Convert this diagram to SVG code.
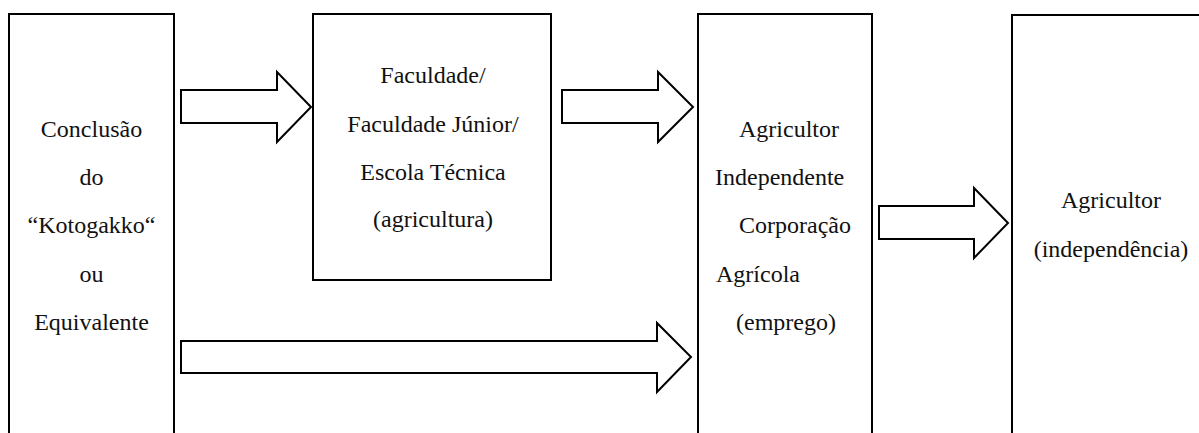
<svg xmlns="http://www.w3.org/2000/svg" width="1199" height="433" viewBox="0 0 1199 433">
<style>
.box{fill:#fff;stroke:#000;stroke-width:2}
.arr{fill:#fff;stroke:#000;stroke-width:2;stroke-linejoin:miter}
.t{font-family:'Liberation Serif','Times New Roman',serif;font-size:24px;fill:#111}
.c{text-anchor:middle}
</style>
<rect width="1199" height="433" fill="#fff"/>
<g id="node-conclusao" class="t">
<rect class="box" x="9" y="14" width="165" height="430"/>
<text class="c" x="91.5" y="137">Conclusão</text>
<text class="c" x="91.5" y="185">do</text>
<text class="c" x="91.5" y="233">“Kotogakko“</text>
<text class="c" x="91.5" y="282">ou</text>
<text class="c" x="91.5" y="330">Equivalente</text>
</g>
<g id="node-faculdade" class="t">
<rect class="box" x="313" y="14" width="238" height="266"/>
<text class="c" x="433" y="83">Faculdade/</text>
<text class="c" x="433" y="132">Faculdade Júnior/</text>
<text class="c" x="433" y="180">Escola Técnica</text>
<text class="c" x="433" y="227">(agricultura)</text>
</g>
<g id="node-agricultor-emprego" class="t">
<rect class="box" x="698" y="14" width="174" height="430"/>
<text x="739" y="137">Agricultor</text>
<text x="715" y="185">Independente</text>
<text x="739" y="233">Corporação</text>
<text x="716" y="282">Agrícola</text>
<text x="736" y="330">(emprego)</text>
</g>
<g id="node-agricultor-independencia" class="t">
<rect class="box" x="1012" y="15" width="200" height="430"/>
<text class="c" x="1111" y="208">Agricultor</text>
<text class="c" x="1111" y="257">(independência)</text>
</g>
<g id="connectors">
<polygon class="arr" points="181,90 277,90 277,72 311,107 277,142 277,123 181,123"/>
<polygon class="arr" points="562,90 658,90 658,72 693,107 658,142 658,123 562,123"/>
<polygon class="arr" points="879,206 974,206 974,188 1008,223 974,258 974,239 879,239"/>
<polygon class="arr" points="181,341 657,341 657,323 691,357 657,392 657,373 181,373"/>
</g>
</svg>
